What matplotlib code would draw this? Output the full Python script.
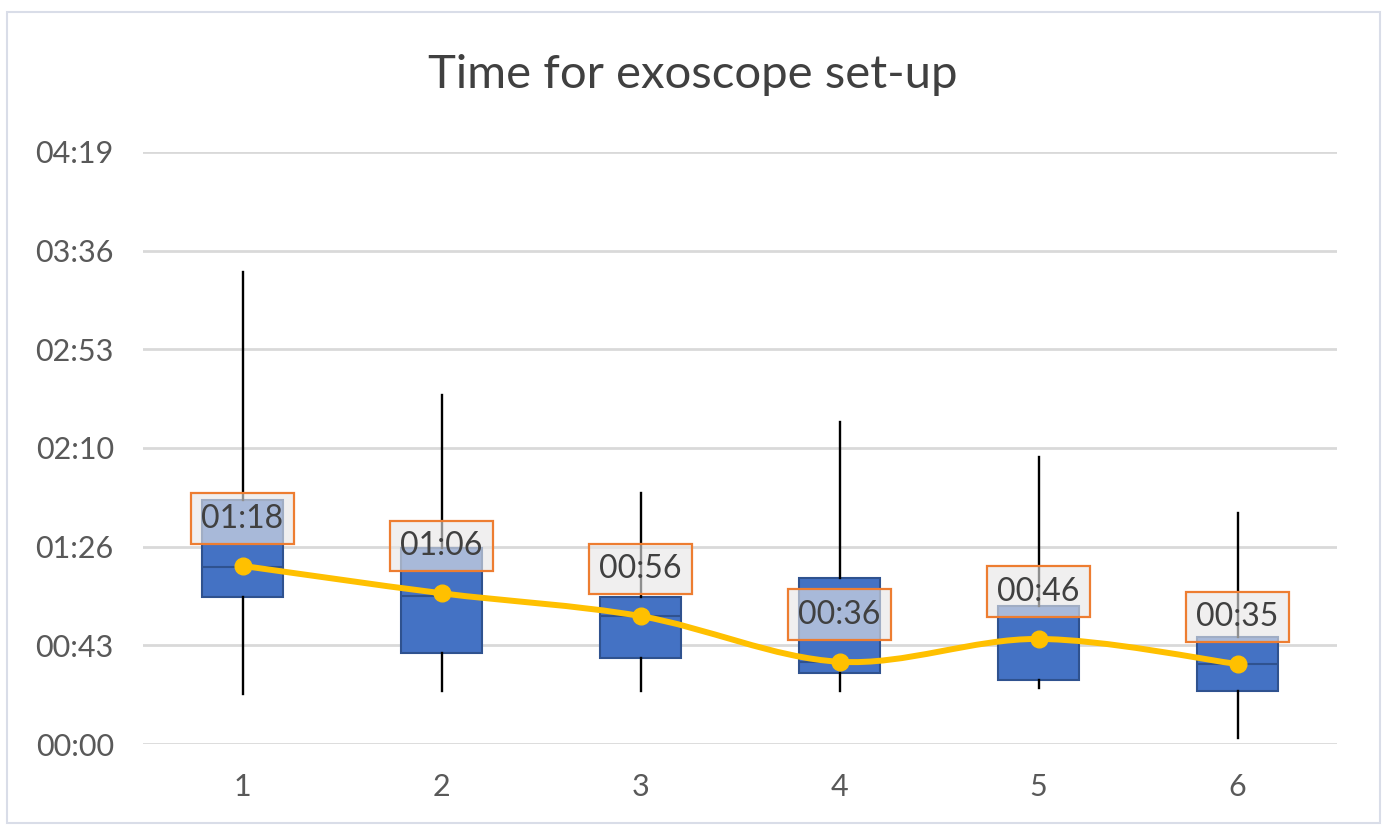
import matplotlib
matplotlib.use("Agg")
import matplotlib.pyplot as plt
from matplotlib.path import Path
from matplotlib.patches import PathPatch, Rectangle
from matplotlib.colors import to_rgba
from matplotlib.ticker import FuncFormatter
import numpy as np

plt.rcParams['font.family'] = ['Lato', 'DejaVu Sans']

# set-up times in seconds
sessions = [1, 2, 3, 4, 5, 6]
whisker_low = [22, 23, 23, 23, 24.5, 2.6]
q1 = [64.4, 39.8, 37.7, 31.1, 28.0, 23.2]
medians = [77.5, 65, 56, 36, 45, 35]
q3 = [107, 85.8, 64.4, 72.7, 60.4, 46.8]
whisker_high = [206.6, 152.8, 109.9, 141, 125.7, 101.1]
means = [78, 66, 56, 36, 46, 35]
tick_step = 43.2  # 0.0005 day


def mmss(sec, pos=None):
    s = int(round(sec))
    m, s = divmod(s, 60)
    return "%02d:%02d" % (m, s)


fig = plt.figure(figsize=(13.85, 8.26), dpi=100)
ax = fig.add_axes([143/1385, 1-744/826, 1194/1385, 592/826])

stats = []
for i in range(len(sessions)):
    stats.append(dict(whislo=whisker_low[i], q1=q1[i], med=medians[i],
                      q3=q3[i], whishi=whisker_high[i], mean=means[i]))

ax.bxp(stats, positions=sessions, widths=0.41, patch_artist=True,
       showcaps=False, showfliers=False, showmeans=False,
       boxprops=dict(facecolor='#4472C4', edgecolor='#2F528F', linewidth=1.5),
       medianprops=dict(color='#2F528F', linewidth=1.5),
       whiskerprops=dict(color='black', linewidth=1.7))

# smoothed mean line (Catmull-Rom style bezier like Excel)
pts = np.column_stack([sessions, means]).astype(float)
verts = [pts[0]]
codes = [Path.MOVETO]
n = len(pts)
for i in range(n - 1):
    p0 = pts[i - 1] if i > 0 else pts[i]
    p1 = pts[i]
    p2 = pts[i + 1]
    p3 = pts[i + 2] if i + 2 < n else pts[i + 1]
    c1 = p1 + (p2 - p0) / 6.0
    c2 = p2 - (p3 - p1) / 6.0
    verts += [c1, c2, p2]
    codes += [Path.CURVE4] * 3
ax.add_patch(PathPatch(Path(verts, codes), fill=False, edgecolor='#FFC000',
                       linewidth=4.3, zorder=4, capstyle='round'))
ax.plot(sessions, means, linestyle='none', marker='o', markersize=12,
        color='#FFC000', zorder=5)

for x, m in zip(sessions, means):
    ax.annotate(mmss(m), (x, m), xytext=(0, 34), textcoords='offset points',
                ha='center', va='center', fontsize=23, color='#404040', zorder=6,
                bbox=dict(boxstyle='square,pad=0.32', fc=to_rgba('#E7E6E6', 0.62),
                          ec='#ED7D31', lw=1.6))

ax.set_xlim(0.5, 6.5)
ax.set_ylim(0, 6 * tick_step)
ax.set_yticks(np.arange(7) * tick_step)
ax.yaxis.set_major_formatter(FuncFormatter(mmss))
ax.set_xticks(sessions)
ax.set_xticklabels([str(s) for s in sessions])
ax.tick_params(axis='both', length=0, labelsize=22, colors='#595959')
ax.tick_params(axis='y', pad=21)
ax.tick_params(axis='x', pad=21)
ax.grid(axis='y', color='#D9D9D9', linewidth=2, zorder=0)
ax.set_axisbelow(True)
for sp in ax.spines.values():
    sp.set_visible(False)

fig.text(0.5, 1 - 75/826, "Time for exoscope set-up", ha='center', va='center',
         fontsize=34, color='#404040')

fig.patches.append(Rectangle((7/1385, 3/826), 1373/1385, 811/826,
                             transform=fig.transFigure, fill=False,
                             edgecolor='#D9DDE8', linewidth=1.5))

fig.savefig("out.png", dpi=100)
